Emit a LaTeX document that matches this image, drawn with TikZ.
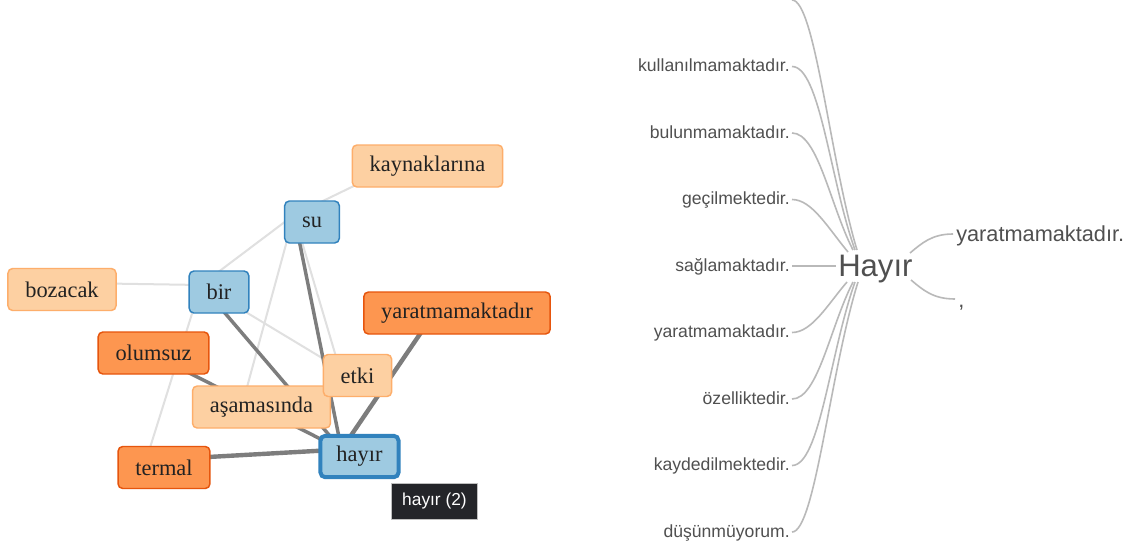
\documentclass[tikz,border=0pt]{standalone}
\usepackage{fontspec}
\setmainfont{Liberation Serif}
\newfontfamily\wtfont{Liberation Sans}
\usetikzlibrary{backgrounds,calc}
\definecolor{lofill}{RGB}{253,208,162}
\definecolor{lodraw}{RGB}{253,174,107}
\definecolor{dofill}{RGB}{253,150,80}
\definecolor{dodraw}{RGB}{230,85,13}
\definecolor{blfill}{RGB}{158,202,225}
\definecolor{bldraw}{RGB}{49,130,189}
\definecolor{lightedge}{RGB}{224,224,224}
\definecolor{darkedge}{RGB}{125,125,125}
\definecolor{wtline}{RGB}{185,185,185}
\definecolor{wttext}{RGB}{80,80,80}
\definecolor{tipfill}{RGB}{36,37,41}
\definecolor{nodetext}{RGB}{34,34,34}
\begin{document}
\begin{tikzpicture}[x=0.75pt,y=-0.75pt,
  wnode/.style={rounded corners=3.5pt, line width=1.1pt, inner xsep=13pt, inner ysep=0pt,
    minimum height=31.5pt, font=\fontsize{16.8}{20}\selectfont, text=nodetext},
  lightnode/.style={wnode, fill=lofill, draw=lodraw},
  darknode/.style={wnode, fill=dofill, draw=dodraw},
  bluenode/.style={wnode, fill=blfill, draw=bldraw},
  hayirnode/.style={wnode, fill=blfill, draw=bldraw, line width=3pt, minimum height=31pt, inner xsep=12pt},
  tipbox/.style={fill=tipfill, draw=black!25, line width=0.6pt, inner sep=0pt,
    minimum width=65pt, minimum height=27pt, text=white, font=\wtfont\fontsize{13}{15}\selectfont},
  lightlink/.style={draw=lightedge, line width=1.5pt},
  darklink/.style={draw=darkedge, line width=2.6pt},
  thicklink/.style={draw=darkedge, line width=3.3pt},
  wtlabel/.style={anchor=base east, inner sep=0pt, text=wttext, font=\wtfont\fontsize{13.2}{15}\selectfont},
  wtright/.style={anchor=base west, inner sep=0pt, text=wttext, font=\wtfont\fontsize{16.3}{19}\selectfont},
  wtroot/.style={anchor=base west, inner sep=0pt, text=wttext, font=\wtfont\fontsize{23.3}{27}\selectfont},
  wtcurve/.style={draw=wtline, line width=1.2pt}
]
\begin{scope}[on background layer]
  \fill[white] (0,0) rectangle (1128,550);
\end{scope}
\useasboundingbox (0,0) rectangle (1128,550);

% ---------- left: network ----------
\node[lightnode] (kay) at (427.5,166) {kaynaklarına};
\node[bluenode]  (su)  at (312,222) {su};
\node[lightnode] (boz) at (62,289.5) {bozacak};
\node[bluenode]  (bir) at (219,292) {bir};
\node[darknode]  (yar) at (457,313) {yaratmamaktadır};
\node[darknode]  (olu) at (153.5,353) {olumsuz};
\node[lightnode] (asa) at (261.5,407) {aşamasında};
\node[lightnode] (etk) at (357.5,375.5) {etki};
\node[hayirnode] (hay) at (359.5,456.5) {hayır};
\node[darknode]  (ter) at (164,467.5) {termal};
\node[tipbox]    (tip) at (434.5,501) {hayır (2)};

\foreach \n in {kay,su,boz,bir,yar,olu,asa,etk,hay,ter}{
  \coordinate (\n-p) at ($(\n.center)+(-18,-7)$);
}

\begin{scope}[on background layer]
  \draw[lightlink] (kay-p) -- (su-p);
  \draw[lightlink] (su-p) -- (bir-p);
  \draw[lightlink] (boz-p) -- (bir-p);
  \draw[lightlink] (bir-p) -- (ter-p);
  \draw[lightlink] (su-p) -- (asa-p);
  \draw[lightlink] (su-p) -- (etk-p);
  \draw[lightlink] (bir-p) -- (etk-p);
  \draw[darklink] (su-p) -- (hay-p);
  \draw[darklink] (bir-p) -- (hay-p);
  \draw[darklink] (olu-p) -- (hay-p);
  \draw[thicklink] (yar-p) -- (hay-p);
  \draw[thicklink] (ter-p) -- (hay-p);
\end{scope}

% ---------- right: word tree ----------
\node[wtroot] (root) at (838,276) {Hayır};

\node[wtlabel] (wkul) at (790,71.5)  {kullanılmamaktadır.};
\node[wtlabel] (wbul) at (790,138)   {bulunmamaktadır.};
\node[wtlabel] (wgec) at (790,204.5) {geçilmektedir.};
\node[wtlabel] (wsag) at (790,271)   {sağlamaktadır.};
\node[wtlabel] (wyar) at (790,337.5) {yaratmamaktadır.};
\node[wtlabel] (woz)  at (790,404)   {özelliktedir.};
\node[wtlabel] (wkay) at (790,470.5) {kaydedilmektedir.};
\node[wtlabel] (wdus) at (790,537)   {düşünmüyorum.};
\coordinate (wtop) at (792,0);

\node[wtright] (ryar) at (956,241) {yaratmamaktadır.};
\node[wtright] (rcom) at (958,307) {,};

\draw[wtcurve] (wtop) .. controls +(23,0) and +(-27,-90) .. ($(root.base west)+(19,-26)$);
\draw[wtcurve] ($(wkul.base east)+(2,-5)$) .. controls +(28,0) and +(-25,-70) .. ($(root.base west)+(17,-26)$);
\draw[wtcurve] ($(wbul.base east)+(2,-5)$) .. controls +(26,0) and +(-23,-45) .. ($(root.base west)+(15,-26)$);
\draw[wtcurve] ($(wgec.base east)+(2,-5)$) .. controls +(20,0) and +(-20,-24) .. ($(root.base west)+(10,-24)$);
\draw[wtcurve] ($(wsag.base east)+(2,-5)$) -- ($(root.base west)+(-2,-10)$);
\draw[wtcurve] ($(wyar.base east)+(2,-5)$) .. controls +(20,0) and +(-19,22) .. ($(root.base west)+(9,6)$);
\draw[wtcurve] ($(woz.base east)+(2,-5)$) .. controls +(26,0) and +(-23,45) .. ($(root.base west)+(15,6)$);
\draw[wtcurve] ($(wkay.base east)+(2,-5)$) .. controls +(28,0) and +(-25,70) .. ($(root.base west)+(17,6)$);
\draw[wtcurve] ($(wdus.base east)+(2,-5)$) .. controls +(23,0) and +(-28,90) .. ($(root.base west)+(20,6)$);

\draw[wtcurve] ($(root.base west)+(72,-23)$) .. controls +(12,-10) and +(-21,0) .. ($(ryar.base west)+(-3,-7)$);
\draw[wtcurve] ($(root.base west)+(73,4)$) .. controls +(12,10) and +(-22,0) .. ($(rcom.base west)+(-3,-8)$);
\end{tikzpicture}
\end{document}
